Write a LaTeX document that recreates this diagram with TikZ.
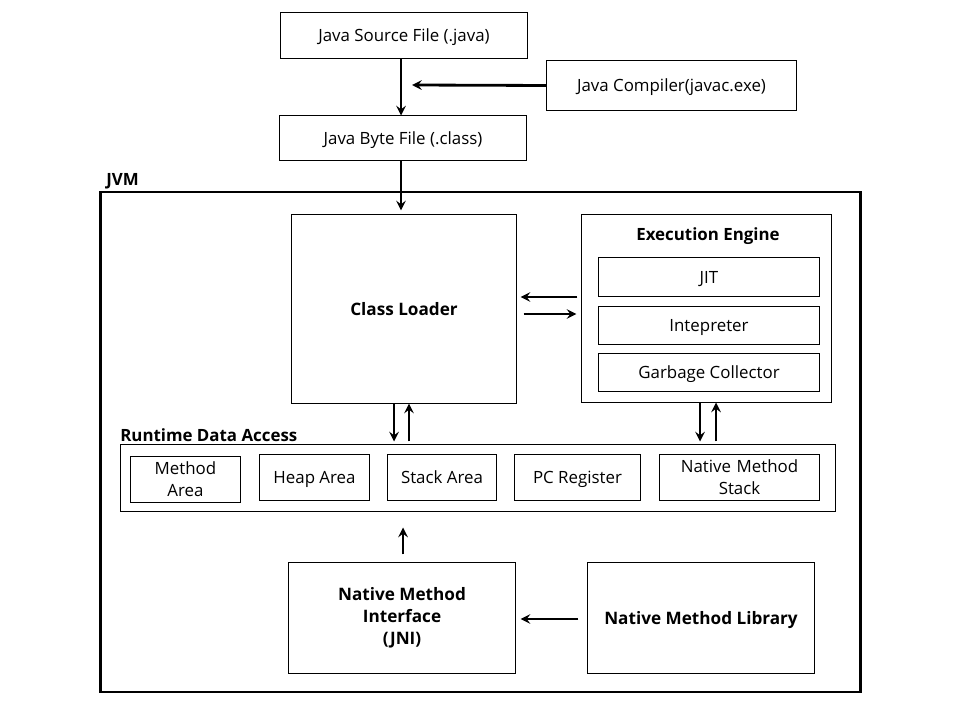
\documentclass[tikz,border=0pt]{standalone}
\usepackage{fontspec}
\setmainfont{Open Sans}
\usepackage{tikz}
\usetikzlibrary{arrows}
\usetikzlibrary{positioning, calc}

\tikzset{
  box/.style={draw=black, line width=0.7pt, rectangle, align=center, inner sep=0pt, font=\fontsize{12}{15.5}\selectfont},
  bigbox/.style={box, font=\fontsize{12.2}{15.5}\selectfont\bfseries},
  one/.style={text height=2.1ex, text depth=0.4ex},
  arr/.style={->, >=stealth, line width=2pt},
}

\begin{document}
\begin{tikzpicture}[x=0.025cm, y=-0.025cm]
      \useasboundingbox (0, 0) rectangle (960, 720);

      % source and compiler
      \node[box, one, minimum width=6.15cm, minimum height=1.125cm] (src) at (404, 35.5) {Java Source File (.java)};
      \node[box, one, minimum width=6.225cm, minimum height=1.225cm] (javac) at (671.5, 85.5) {Java Compiler(javac.exe)};
      \node[box, one, minimum width=6.15cm, minimum height=1.1cm] (byte) at (403, 138) {Java Byte File (.class)};
      \coordinate (jc) at (412, 85);

      % JVM
      \node[draw=black, line width=2pt, minimum width=18.975cm, minimum height=12.5cm, inner sep=0pt] (jvm) at (480.5, 442) {};
      \node[anchor=west, font=\fontsize{12}{15}\selectfont\bfseries, inner sep=0pt] (jvmlabel) at (106, 181) {JVM};

      \node[bigbox, one, minimum width=5.6cm, minimum height=4.7cm] (cl) at (404, 309) {Class Loader};
      \node[box, minimum width=6.225cm, minimum height=4.675cm] (ee) at (706.5, 308.5) {};
      \node[font=\fontsize{12}{15}\selectfont\bfseries, inner sep=0pt] (eetitle) at (708, 236) {Execution Engine};
      \node[box, one, minimum width=5.5cm, minimum height=0.95cm] (jit) at (709, 277) {JIT};
      \node[box, one, minimum width=5.5cm, minimum height=0.925cm] (interp) at (709, 325.5) {Intepreter};
      \node[box, one, minimum width=5.5cm, minimum height=0.95cm] (gc) at (709, 372) {Garbage Collector};

      % runtime data
      \node[anchor=west, font=\fontsize{12}{15}\selectfont\bfseries, inner sep=0pt] (rdalabel) at (120, 435) {Runtime Data Access};
      \node[box, minimum width=17.85cm, minimum height=1.65cm] (rda) at (478, 478) {};
      \node[box, minimum width=2.725cm, minimum height=1.15cm, text width=2.6cm] (method) at (185.5, 479) {Method\\Area};
      \node[box, one, minimum width=2.725cm, minimum height=1.15cm] (heap) at (314.5, 477) {Heap Area};
      \node[box, one, minimum width=2.7cm, minimum height=1.15cm] (stack) at (442, 477) {Stack Area};
      \node[box, one, minimum width=3.125cm, minimum height=1.15cm] (pc) at (577.5, 477) {PC Register};
      \node[box, minimum width=3.975cm, minimum height=1.15cm, text width=3.8cm] (nms) at (739.5, 477) {Native Method\\Stack};

      % native
      \node[bigbox, minimum width=5.65cm, minimum height=2.75cm] (nmi) at (402, 618) {Native Method\\Interface\\(JNI)};
      \node[bigbox, one, minimum width=5.65cm, minimum height=2.75cm] (nml) at (701, 618) {Native Method Library};

      % arrows
      \draw[arr] (401,0 |- src.south) -- (401,0 |- byte.north);
      \draw[arr] (javac.west) -- (jc);
      \draw[arr, shorten >=0.1cm] (401,0 |- byte.south) -- (401,0 |- cl.north);
      \draw[arr, shorten <=0.1cm, shorten >=0.1cm] (ee.west |- 0,297) -- (cl.east |- 0,297);
      \draw[arr, shorten <=0.175cm, shorten >=0.125cm] (cl.east |- 0,314) -- (ee.west |- 0,314);
      \draw[arr, shorten >=0.075cm] (394,0 |- cl.south) -- (394,0 |- rda.north);
      \draw[arr, shorten <=0.075cm] (409,0 |- rda.north) -- (409,0 |- cl.south);
      \draw[arr, shorten >=0.075cm] (700,0 |- ee.south) -- (700,0 |- rda.north);
      \draw[arr, shorten <=0.075cm] (716,0 |- rda.north) -- (716,0 |- ee.south);
      \draw[arr, shorten <=0.2cm, shorten >=0.4cm] (403,0 |- nmi.north) -- (403,0 |- rda.south);
      \draw[arr, shorten <=0.225cm, shorten >=0.125cm] (nml.west |- 0,619) -- (nmi.east |- 0,619);
\end{tikzpicture}
\end{document}
